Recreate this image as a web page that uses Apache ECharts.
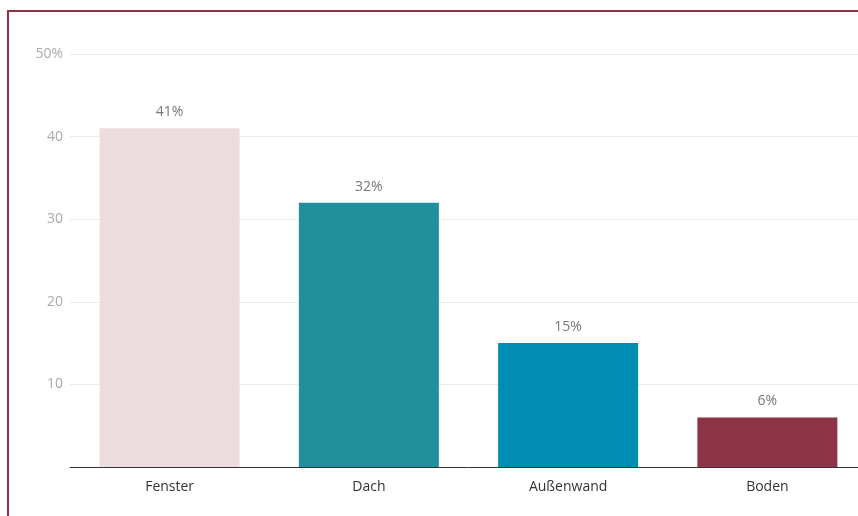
<!DOCTYPE html>
<html><head><meta charset="utf-8">
<script src="https://cdn.jsdelivr.net/npm/echarts@6/dist/echarts.min.js"></script>
<style>
html,body{margin:0;padding:0;width:858px;height:516px;overflow:hidden;background:#fff;}
#frame{position:absolute;left:7px;top:10px;width:900px;height:560px;border-top:2px solid #8c3345;border-left:2px solid #8c3345;}
#c{position:absolute;left:0;top:0;width:880px;height:516px;}
</style></head><body>
<div id="frame"></div>
<div id="c"></div>
<script>
const categories = ['Fenster', 'Dach', 'Außenwand', 'Boden'];
const values = [41, 32, 15, 6];
const colors = ['#ecdcdd', '#228f9d', '#008db3', '#8c3345'];
const yTicks = [0, 10, 20, 30, 40, 50];

const chart = echarts.init(document.getElementById('c'), null, {renderer: 'canvas'});
const font = '"Open Sans", sans-serif';
chart.setOption({
  animation: false,
  grid: {left: 70, top: 54, width: 797, bottom: 49, containLabel: false},
  xAxis: {
    type: 'category',
    data: categories,
    axisLine: {lineStyle: {color: '#333', width: 1}},
    axisTick: {show: false},
    axisLabel: {color: '#333', fontSize: 14, fontFamily: font, margin: 13}
  },
  yAxis: {
    type: 'value',
    min: yTicks[0], max: yTicks[yTicks.length - 1], interval: 10,
    axisLine: {show: false},
    axisTick: {show: false},
    splitLine: {lineStyle: {color: '#ebebeb', width: 1}},
    axisLabel: {
      color: '#aaa', fontSize: 14, fontFamily: font, margin: 7,
      formatter: v => v === 0 ? '' : (v === 50 ? v + '%' : String(v))
    }
  },
  series: [{
    type: 'bar',
    barWidth: 140,
    data: values.map((v, i) => ({value: v, itemStyle: {color: colors[i]}})),
    label: {show: true, position: 'top', distance: 9, color: '#777', fontSize: 14, fontFamily: font, formatter: p => p.value + '%'}
  }]
});
</script>
</body></html>
